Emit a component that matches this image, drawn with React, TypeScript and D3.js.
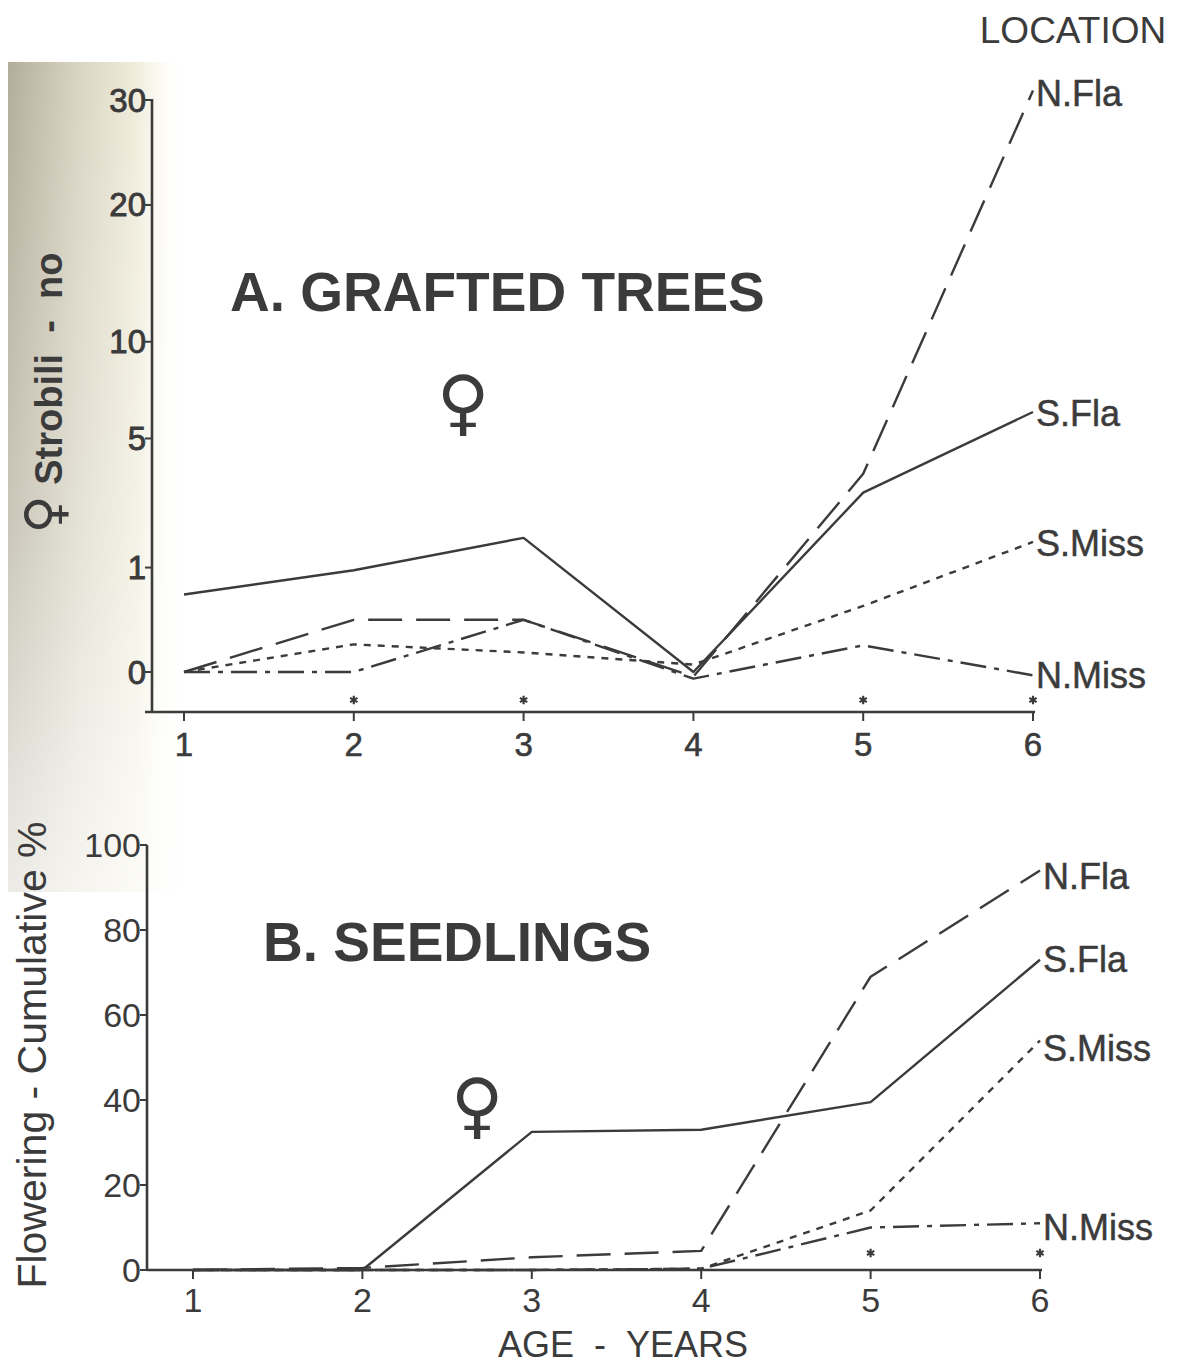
import React, { useEffect, useRef } from "react";
import * as d3 from "d3";

// age in years (x axis of both panels)
const ages = [1, 2, 3, 4, 5, 6];
const locations = ["N.Fla", "S.Fla", "S.Miss", "N.Miss"];

// A. grafted trees - female strobili, number per tree
const graftedNFla = [0, 0.25, 0.25, -0.002, 3.6, 31];
const graftedSFla = [0.55, 0.95, 1.65, 0, 2.95, 6.2];
const graftedSMiss = [0, 0.07, 0.035, 0.005, 0.4, 1.55];
const graftedNMiss = [0, 0, 0.25, -0.004, 0.065, -0.001];

// B. seedlings - cumulative % flowering
const seedNFla = [0, 0.5, 3, 4.5, 69, 94];
const seedSFla = [0, 0, 32.5, 33, 39.5, 73];
const seedSMiss = [0, 0, 0, 0.3, 14, 54];
const seedNMiss = [0, 0, 0, 0.3, 10, 11];

const strobiliTicks = [0, 1, 5, 10, 20, 30];
const percentTicks = [0, 20, 40, 60, 80, 100];
const starsA = [2, 3, 5, 6];
const starsB = [5, 6];

const INK = "#3b3b3b";
const FONT = "'Liberation Sans', Arial, Helvetica, sans-serif";
const SYMBOL_FONT = "'DejaVu Sans', sans-serif";
const NB = "\u00a0";

const dashes: Record<string, string | null> = {
  "N.Fla": "34 14",
  "S.Fla": null,
  "S.Miss": "7 7",
  "N.Miss": "26 8 5 8",
};

function App() {
  const svgRef = useRef<SVGSVGElement>(null);

  useEffect(() => {
    const svg = d3.select(svgRef.current);
    svg.selectAll("*").remove();

    // scan shading on the left edge
    const defs = svg.append("defs");
    const gh = defs.append("linearGradient").attr("id", "shadeH");
    gh.append("stop").attr("offset", "0%").attr("stop-color", "#b3ae9b");
    gh.append("stop").attr("offset", "40%").attr("stop-color", "#d9d5c4");
    gh.append("stop").attr("offset", "75%").attr("stop-color", "#f1eedd");
    gh.append("stop").attr("offset", "100%").attr("stop-color", "#fffef8").attr("stop-opacity", 0);
    const gv = defs.append("linearGradient").attr("id", "fadeV").attr("x1", 0).attr("x2", 0).attr("y1", 0).attr("y2", 1);
    gv.append("stop").attr("offset", "0%").attr("stop-color", "#fff").attr("stop-opacity", 0);
    gv.append("stop").attr("offset", "55%").attr("stop-color", "#fff").attr("stop-opacity", 0.3);
    gv.append("stop").attr("offset", "100%").attr("stop-color", "#fff").attr("stop-opacity", 0.75);
    svg.append("rect").attr("x", 8).attr("y", 62).attr("width", 175).attr("height", 830).attr("fill", "url(#shadeH)");
    svg.append("rect").attr("x", 8).attr("y", 62).attr("width", 175).attr("height", 830).attr("fill", "url(#fadeV)");

    const txt = (x: number, y: number, s: string, size: number, opts: any = {}) => {
      const t = svg
        .append("text")
        .attr("x", x)
        .attr("y", y)
        .attr("font-family", opts.family || FONT)
        .attr("font-size", size)
        .attr("fill", INK)
        .attr("text-anchor", opts.anchor || "start")
        .attr("font-weight", opts.weight || "normal")
        .text(s);
      if (opts.stroke) t.attr("stroke", INK).attr("stroke-width", opts.stroke);
      if (opts.rotate) t.attr("transform", `rotate(-90, ${x}, ${y})`);
      if (opts.middle) t.attr("dominant-baseline", "central");
      return t;
    };

    const drawLines = (
      g: d3.Selection<SVGGElement, unknown, null, undefined>,
      x: d3.ScaleLinear<number, number>,
      y: any,
      seriesList: number[][],
      labelShift: number[]
    ) => {
      const line = d3
        .line<number>()
        .x((_, i) => x(ages[i]))
        .y((d) => y(d));
      seriesList.forEach((vals, k) => {
        const name = locations[k];
        const p = g
          .append("path")
          .datum(vals)
          .attr("d", line)
          .attr("fill", "none")
          .attr("stroke", INK)
          .attr("stroke-width", 2.4)
          .attr("stroke-linejoin", "round");
        if (dashes[name]) p.attr("stroke-dasharray", dashes[name] as string);
        txt(x(6) + 3, y(vals[vals.length - 1]) + labelShift[k], name, 36, { middle: true, stroke: 0.5 });
      });
    };

    const stars = (at: number[], x: d3.ScaleLinear<number, number>, yy: number) => {
      svg
        .selectAll(null)
        .data(at)
        .enter()
        .append("path")
        .attr("d", d3.symbol(d3.symbolAsterisk, 50)())
        .attr("transform", (d) => `translate(${x(d)}, ${yy})`)
        .attr("fill", "none")
        .attr("stroke", INK)
        .attr("stroke-width", 2.2);
    };

    // ---------- Panel A ----------
    const axA = 152, baseA = 712;
    const xA = d3.scaleLinear().domain([1, 6]).range([184, 1033]);
    const yA = d3.scaleSqrt().domain([0, 30]).range([672, 100]);

    const gA = svg.append("g");
    gA.append("line").attr("x1", axA).attr("x2", axA).attr("y1", yA(30) - 1).attr("y2", baseA)
      .attr("stroke", INK).attr("stroke-width", 2.6);
    gA.append("line").attr("x1", 145).attr("x2", 1035).attr("y1", baseA).attr("y2", baseA)
      .attr("stroke", INK).attr("stroke-width", 2.6);
    strobiliTicks.forEach((t) => {
      gA.append("line").attr("x1", axA - 7).attr("x2", axA).attr("y1", yA(t)).attr("y2", yA(t))
        .attr("stroke", INK).attr("stroke-width", 2);
      txt(axA - 6, yA(t), String(t), 33, { anchor: "end", middle: true, stroke: 0.9 });
    });
    ages.forEach((a) => {
      gA.append("line").attr("x1", xA(a)).attr("x2", xA(a)).attr("y1", baseA).attr("y2", baseA + 9)
        .attr("stroke", INK).attr("stroke-width", 2);
      txt(xA(a), baseA + 44, String(a), 33, { anchor: "middle", stroke: 0.6 });
    });
    drawLines(gA, xA, yA, [graftedNFla, graftedSFla, graftedSMiss, graftedNMiss], [3, 2, 2, 0]);
    stars(starsA, xA, 700);

    txt(230, 311, "A. GRAFTED TREES", 55, { weight: "bold" });
    txt(463, 402, "\u2640", 72, { anchor: "middle", middle: true, weight: "bold", family: SYMBOL_FONT });

    // rotated y title with a larger female sign
    const yt = svg
      .append("text")
      .attr("transform", "translate(62, 393) rotate(-90)")
      .attr("text-anchor", "middle")
      .attr("font-family", FONT)
      .attr("font-weight", "bold")
      .attr("font-size", 38)
      .attr("fill", INK);
    yt.append("tspan").attr("font-family", SYMBOL_FONT).attr("font-size", 52).text("\u2640");
    yt.append("tspan").text(`${NB}Strobili${NB}${NB}-${NB}${NB}no`);

    txt(1073, 43, "LOCATION", 37, { anchor: "middle" });

    // ---------- Panel B ----------
    const axB = 147;
    const xB = d3.scaleLinear().domain([1, 6]).range([193, 1040]);
    const yB = d3.scaleLinear().domain([0, 100]).range([1270, 845]);

    const gB = svg.append("g");
    gB.append("line").attr("x1", axB).attr("x2", axB).attr("y1", yB(100)).attr("y2", yB(0))
      .attr("stroke", INK).attr("stroke-width", 2.6);
    gB.append("line").attr("x1", axB).attr("x2", 1042).attr("y1", yB(0)).attr("y2", yB(0))
      .attr("stroke", INK).attr("stroke-width", 2.6);
    percentTicks.forEach((t) => {
      gB.append("line").attr("x1", axB - 7).attr("x2", axB).attr("y1", yB(t)).attr("y2", yB(t))
        .attr("stroke", INK).attr("stroke-width", 2);
      txt(axB - 6, yB(t), String(t), 34, { anchor: "end", middle: true });
    });
    ages.forEach((a) => {
      gB.append("line").attr("x1", xB(a)).attr("x2", xB(a)).attr("y1", yB(0)).attr("y2", yB(0) + 9)
        .attr("stroke", INK).attr("stroke-width", 2);
      txt(xB(a), yB(0) + 42, String(a), 34, { anchor: "middle" });
    });
    drawLines(gB, xB, yB, [seedNFla, seedSFla, seedSMiss, seedNMiss], [6, 0, 8, 4]);
    stars(starsB, xB, 1253);

    txt(263, 961, "B. SEEDLINGS", 55, { weight: "bold" });
    txt(477, 1105, "\u2640", 72, { anchor: "middle", middle: true, weight: "bold", family: SYMBOL_FONT });
    txt(46, 1055, `Flowering${NB}-${NB}Cumulative${NB}%`, 41, { anchor: "middle", rotate: true });
    txt(623, 1357, `AGE${NB}${NB}-${NB}${NB}YEARS`, 36, { anchor: "middle" });
  }, []);

  return (
    <svg
      ref={svgRef}
      width={1180}
      height={1364}
      style={{ position: "absolute", left: 0, top: 0, background: "#fff" }}
    />
  );
}

export default App;
